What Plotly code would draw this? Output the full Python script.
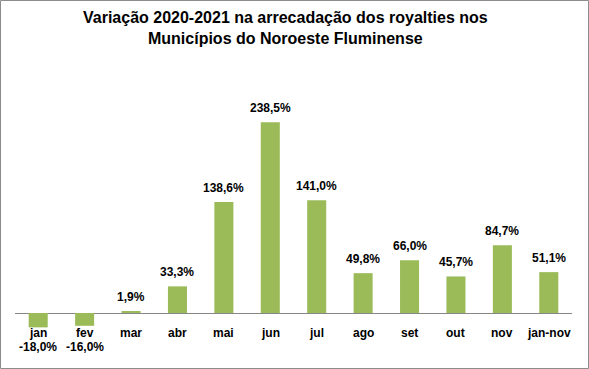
import plotly.graph_objects as go

categories = ["jan", "fev", "mar", "abr", "mai", "jun", "jul", "ago", "set", "out", "nov", "jan-nov"]
values = [-18.0, -16.0, 1.9, 33.3, 138.6, 238.5, 141.0, 49.8, 66.0, 45.7, 84.7, 51.1]
labels = ["-18,0%", "-16,0%", "1,9%", "33,3%", "138,6%", "238,5%", "141,0%",
          "49,8%", "66,0%", "45,7%", "84,7%", "51,1%"]
title_lines = ["Variação 2020-2021 na arrecadação dos royalties nos",
               "Municípios do Noroeste Fluminense"]

W, H = 589, 369
ml, mr, mt, mb = 15, 17, 60, 24
pw, ph = W - ml - mr, H - mt - mb

fig = go.Figure()
fig.add_trace(go.Bar(x=categories, y=values, marker_color="#9BBB59",
                     marker_line_width=0, hoverinfo="skip"))

font = "Liberation Sans, Arial, sans-serif"
anns = []
for c, v, t in zip(categories, values, labels):
    anns.append(dict(x=c, y=0, xref="x", yref="y", text="<b>%s</b>" % c,
                     showarrow=False, yanchor="top", yshift=-11,
                     font=dict(family=font, size=12, color="black")))
    if v >= 0:
        anns.append(dict(x=c, y=v, xref="x", yref="y", text="<b>%s</b>" % t,
                         showarrow=False, yanchor="bottom", yshift=5,
                         font=dict(family=font, size=12, color="black")))
    else:
        anns.append(dict(x=c, y=0, xref="x", yref="y", text="<b>%s</b>" % t,
                         showarrow=False, yanchor="top", yshift=-25,
                         font=dict(family=font, size=12, color="black")))

anns.append(dict(x=0.485, y=1 + (mt - 7) / ph, xref="paper", yref="paper",
                 text="<b>%s<br>%s</b>" % tuple(title_lines), showarrow=False,
                 yanchor="top", xanchor="center", align="center",
                 font=dict(family=font, size=16, color="black")))

fig.update_layout(
    width=W, height=H,
    margin=dict(l=ml, r=mr, t=mt, b=mb),
    paper_bgcolor="white", plot_bgcolor="white",
    bargap=0.59, showlegend=False,
    xaxis=dict(showticklabels=False, showgrid=False, zeroline=False, showline=False,
               ticks="", range=[-0.5, 11.5]),
    yaxis=dict(range=[-40, 316.25], showticklabels=False, showgrid=False,
               zeroline=True, zerolinecolor="#868686", zerolinewidth=1, showline=False),
    annotations=anns,
    shapes=[dict(type="rect", xref="paper", yref="paper",
                 x0=-(ml - 0.5) / pw, x1=1 + (mr - 0.5) / pw,
                 y0=-(mb - 0.5) / ph, y1=1 + (mt - 0.5) / ph,
                 line=dict(color="#8c8c8c", width=1), fillcolor="rgba(0,0,0,0)")],
)

fig.write_html("out.html", config={"displayModeBar": False},
               post_script="document.body.style.margin='0';document.body.style.overflow='hidden';")
